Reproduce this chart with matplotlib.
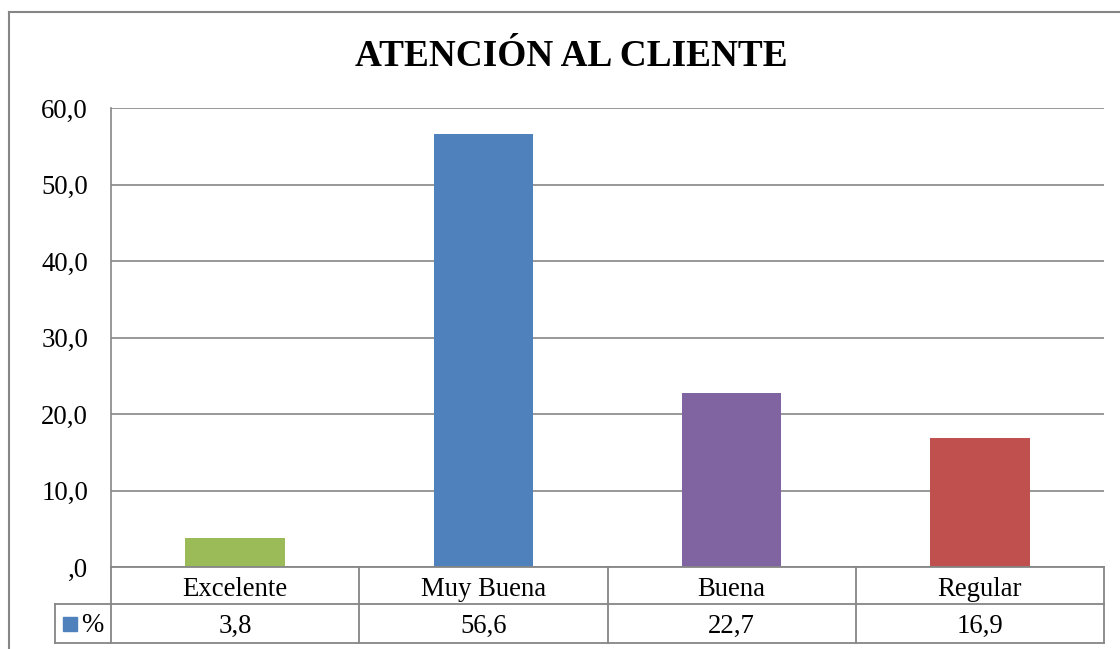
import matplotlib
matplotlib.use("Agg")
import matplotlib.pyplot as plt
from matplotlib.lines import Line2D
from matplotlib.patches import Rectangle

categories = ["Excelente", "Muy Buena", "Buena", "Regular"]
values = [3.8, 56.6, 22.7, 16.9]
colors = ["#9BBB59", "#4F81BD", "#8064A2", "#C0504D"]
yticks = [0, 10, 20, 30, 40, 50, 60]
title = "ATENCIÓN AL CLIENTE"
series_name = "%"

W, H = 1120, 649
fig = plt.figure(figsize=(W / 100, H / 100), dpi=100)
plt.rcParams['font.family'] = ['Liberation Serif', 'DejaVu Serif']

def fx(px):
    return px / W

def fy(py):
    return 1 - py / H

L, R, T, B = 111, 1104, 108, 567
ax = fig.add_axes([fx(L), fy(B), (R - L) / W, (B - T) / H])
x = list(range(len(categories)))
ax.bar(x, values, width=0.4, color=colors, zorder=3)
ax.set_xlim(-0.5, len(categories) - 0.5)
ax.set_ylim(0, 60)
ax.set_yticks(yticks)

def fmt(v):
    s = f"{v:.1f}".replace('.', ',')
    if s.startswith("0,"):
        s = s[1:]
    return s

ax.set_yticklabels([fmt(v) for v in yticks], fontsize=19.3)
ax.tick_params(axis='y', length=0, pad=16.5)
ax.set_xticks([])
ax.grid(axis='y', color='#868686', linewidth=1.2, zorder=0)
for s in ['top', 'right', 'bottom']:
    ax.spines[s].set_visible(False)
ax.spines['left'].set_color('#868686')
ax.spines['left'].set_linewidth(1.2)

gray = '#868686'
lw = 1.3
# data table
r1, r2, r3 = 567, 604, 643
xs = [L + (R - L) * i / len(categories) for i in range(len(categories) + 1)]
lines = []
lines.append(([L, R], [r1, r1]))
lines.append(([55, R], [r2, r2]))
lines.append(([55, R], [r3, r3]))
for xv in xs:
    lines.append(([xv, xv], [r1, r3]))
lines.append(([55, 55], [r2, r3]))
for xx, yy in lines:
    fig.add_artist(Line2D([fx(v) for v in xx], [fy(v) for v in yy], color=gray, linewidth=lw))

for i, (c, v) in enumerate(zip(categories, values)):
    cx = (xs[i] + xs[i + 1]) / 2
    fig.text(fx(cx), fy((r1 + r2) / 2 + 3.5), c, ha='center', va='center', fontsize=19.3)
    fig.text(fx(cx), fy((r2 + r3) / 2 + 2.5), fmt(v), ha='center', va='center', fontsize=19.3)

# legend key in table
fig.add_artist(Rectangle((fx(63), fy(631)), 14 / W, 14 / H, color=colors[1]))
fig.text(fx(81), fy(626), series_name, ha='left', va='center', fontsize=19.3)

# outer chart frame
fig.add_artist(Line2D([fx(9), fx(9)], [fy(12), fy(H + 5)], color=gray, linewidth=1.5))
fig.add_artist(Line2D([fx(9), fx(W + 5)], [fy(12), fy(12)], color=gray, linewidth=1.5))

fig.text(fx(571), fy(57), title, ha='center', va='center', fontsize=26.8, fontweight='bold')

fig.savefig("out.png", dpi=100)
